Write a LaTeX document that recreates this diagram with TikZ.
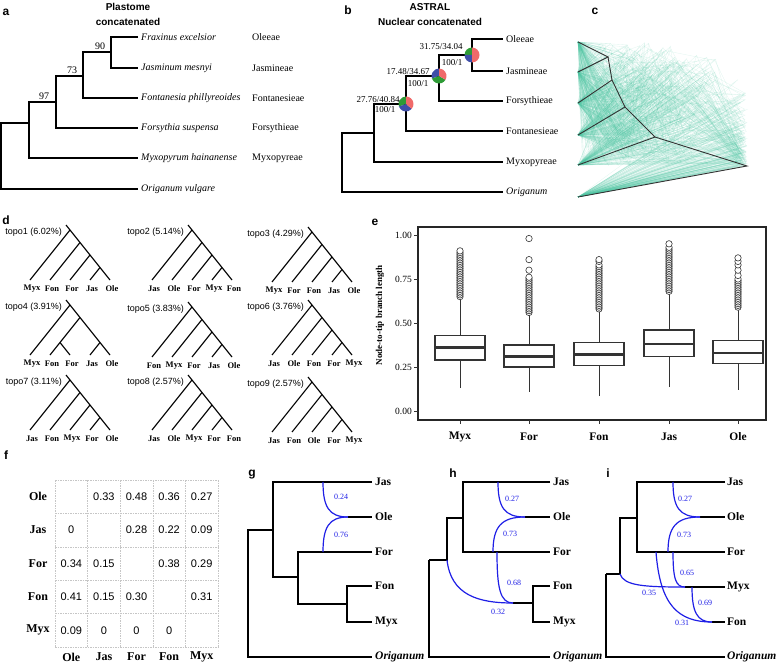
\documentclass[tikz,border=0pt]{standalone}
\usepackage{fontspec}
\setmainfont{Liberation Serif}
\setsansfont{Liberation Sans}
\usepackage{tikz}
\usetikzlibrary{calc}
\definecolor{pier}{HTML}{F06A6A}
\definecolor{pieg}{HTML}{2E9B36}
\definecolor{pieb}{HTML}{3F4FA8}
\definecolor{nuage}{HTML}{4CC3A0}
\definecolor{reseau}{HTML}{1F1FE6}
\definecolor{sombre}{HTML}{333333}

\begin{document}
\begin{tikzpicture}[x=1pt, y=-1pt,
    br/.style={line width=1.1pt},
    net/.style={reseau, line width=1.2pt},
    netlab/.style={reseau, font=\fontsize{8}{9}\selectfont, inner sep=0pt},
    panel/.style={font=\sffamily\bfseries\fontsize{12}{14}\selectfont, inner sep=0pt},
    titre/.style={font=\sffamily\bfseries\fontsize{10}{12}\selectfont, inner sep=0pt},
    taxon/.style={font=\fontsize{10}{12}\selectfont\itshape, anchor=west, inner sep=1pt},
    tribu/.style={font=\fontsize{10}{12}\selectfont, anchor=west, inner sep=1pt},
    supp/.style={font=\fontsize{9}{10}\selectfont, inner sep=0pt},
    topolab/.style={font=\sffamily\fontsize{9}{10}\selectfont, anchor=east, inner sep=1pt},
    tiplab/.style={font=\bfseries\fontsize{8.5}{10}\selectfont, inner sep=0pt},
    glab/.style={font=\bfseries\fontsize{11.5}{13}\selectfont, anchor=west, inner sep=1pt},
    cloudline/.style={nuage, line width=0.35pt, opacity=0.16},
    grille/.style={gray!45, line width=0.5pt, dash pattern=on 1.5pt off 1pt}]
  \useasboundingbox (0,0) rectangle (779,663);

  % a
  \node[panel] (la) at (6,12) {a};
  \node[titre] (ta1) at (128,7) {Plastome};
  \node[titre] (ta2) at (128,22) {concatenated};
  \draw[br] (138,37) -| (111,68) -- (138,68);
  \draw[br] (111,52) -| (83,98) -- (138,98);
  \draw[br] (83,76) -| (56,128) -- (138,128);
  \draw[br] (56,102) -| (29,158) -- (138,158);
  \draw[br] (29,123) -| (1,189) -- (138,189);
  \node[supp, font=\fontsize{10}{12}\selectfont] (bs90) at (100,46) {90};
  \node[supp, font=\fontsize{10}{12}\selectfont] (bs73) at (72,70) {73};
  \node[supp, font=\fontsize{10}{12}\selectfont] (bs97) at (44,96) {97};
  \foreach \y/\sp/\tr [count=\i] in {37/Fraxinus excelsior/Oleeae, 68/Jasminum mesnyi/Jasmineae,
      98/Fontanesia phillyreoides/Fontanesieae, 128/Forsythia suspensa/Forsythieae,
      158/Myxopyrum hainanense/Myxopyreae} {
    \node[taxon] (sp\i) at (140,\y) {\sp};
    \node[tribu] (tr\i) at (251,\y) {\tr};
  }
  \node[taxon] (sp6) at (140,189) {Origanum vulgare};

  % b
  \node[panel] (lb) at (348,10) {b};
  \node[titre] (tb1) at (430,7) {ASTRAL};
  \node[titre] (tb2) at (430,22) {Nuclear concatenated};
  \draw[br] (503,39) -| (472,71) -- (503,71);
  \draw[br] (472,55) -| (439,101) -- (503,101);
  \draw[br] (439,76) -| (406,131) -- (503,131);
  \draw[br] (406,104) -| (374,162) -- (503,162);
  \draw[br] (374,133) -| (342,192) -- (503,192);
  \foreach \px/\py/\ca/\a/\cb/\b in {472/55/pieg/180/pieb/270, 439/76/pieb/200/pieg/330, 406/104/pieg/200/pieb/320} {
    \begin{scope}[shift={(\px,\py)}, yscale=-1]
      \fill[\ca] (0,0) -- (90:7.5) arc[start angle=90, end angle=\a, radius=7.5] -- cycle;
      \fill[\cb] (0,0) -- (\a:7.5) arc[start angle=\a, end angle=\b, radius=7.5] -- cycle;
      \fill[pier] (0,0) -- (\b:7.5) arc[start angle=\b, end angle=450, radius=7.5] -- cycle;
    \end{scope}
  }
  \node[supp] (q1) at (441,47) {31.75/34.04};
  \node[supp] (p1) at (452,63) {100/1};
  \node[supp] (q2) at (408,72) {17.48/34.67};
  \node[supp] (p2) at (418,84) {100/1};
  \node[supp] (q3) at (378,100) {27.76/40.84};
  \node[supp] (p3) at (385,110) {100/1};
  \foreach \y/\tr [count=\i] in {39/Oleeae, 71/Jasmineae, 101/Forsythieae, 131/Fontanesieae, 162/Myxopyreae} {
    \node[tribu] (nb\i) at (505,\y) {\tr};
  }
  \node[taxon] (nb6) at (505,192) {Origanum};

  % c
  \node[panel] (lc) at (595,11) {c};
  \pgfmathsetseed{2718}
  \foreach \k in {1,...,170} {
    \pgfmathsetmacro{\cax}{581+rnd*55}
    \pgfmathsetmacro{\cay}{42+rnd*124}
    \pgfmathsetmacro{\cbx}{\cax+rnd*(700-\cax)*0.5}
    \pgfmathsetmacro{\cby}{42+rnd*124}
    \pgfmathsetmacro{\ccx}{\cbx+rnd*(725-\cbx)*0.5}
    \pgfmathsetmacro{\ccy}{45+rnd*121}
    \pgfmathsetmacro{\cdx}{\ccx+rnd*(742-\ccx)*0.7}
    \pgfmathsetmacro{\cdy}{55+rnd*111}
    \pgfmathsetmacro{\crx}{737+rnd*10}
    \pgfmathsetmacro{\cry}{166-rnd*rnd*100}
    \draw[cloudline] (578,42) -- (\cax,\cay) -- (578,72);
    \draw[cloudline] (\cax,\cay) -- (\cbx,\cby) -- (578,103);
    \draw[cloudline] (\cbx,\cby) -- (\ccx,\ccy) -- (578,135);
    \draw[cloudline] (\ccx,\ccy) -- (\cdx,\cdy) -- (578,165);
    \draw[cloudline] (\cdx,\cdy) -- (\crx,\cry) -- (578,197);
  }
  \draw[sombre, line width=0.9pt] (578,42) -- (608,57) -- (578,72);
  \draw[sombre, line width=0.9pt] (608,57) -- (612,80) -- (578,103);
  \draw[sombre, line width=0.9pt] (612,80) -- (625,107) -- (578,135);
  \draw[sombre, line width=0.9pt] (625,107) -- (655,137) -- (578,165);
  \draw[sombre, line width=0.9pt] (655,137) -- (747,166) -- (578,197);

  % d
  \node[panel] (ld) at (6,220) {d};
  \foreach \n/\x/\y/\pc/\ta/\tb/\tc/\td/\te in {
      1/30/280/6.02/Myx/Fon/For/Jas/Ole, 2/152/280/5.14/Jas/Ole/For/Myx/Fon,
      3/272/282/4.29/Myx/For/Fon/Jas/Ole, 4/30/355/3.91/Myx/Fon/For/Jas/Ole,
      5/152/357/3.83/Fon/Myx/For/Jas/Ole, 6/272/355/3.76/Jas/Ole/Fon/For/Myx,
      7/30/430/3.11/Jas/Fon/Myx/For/Ole, 8/152/430/2.57/Jas/Ole/Myx/For/Fon,
      9/272/432/2.57/Jas/Fon/Ole/For/Myx} {
    \draw[br] (\x+80,\y) -- (\x+36,\y-55);
    \draw[br] (\x+40,\y-50) -- (\x,\y);
    \ifnum\n=4
      \draw[br] (\x+50,\y-37.5) -- (\x+20,\y);
      \draw[br] (\x+30,\y-12.5) -- (\x+40,\y);
      \draw[br] (\x+60,\y) -- (\x+70,\y-12.5);
    \else
      \foreach \i in {1,2,3}
        \draw[br] (\x+20*\i,\y) -- (\x+40+10*\i,\y-50+12.5*\i);
    \fi
    \node[topolab] (topo\n) at (\x+33,\y-48) {topo\n\ (\pc\%)};
    \foreach \t [count=\i from 0] in {\ta,\tb,\tc,\td,\te}
      \node[tiplab] (tip\n-\i) at (\x+20*\i+2,\y+9) {\t};
  }

  % e
  \node[panel] (le) at (375,222) {e};
  \draw[black!85, line width=1.3pt] (418,227) rectangle (766,420);
  \foreach \v/\t in {0/0.00, 0.25/0.25, 0.5/0.50, 0.75/0.75, 1/1.00} {
    \draw[sombre, line width=0.8pt] (414,{411-176*\v}) -- (418,{411-176*\v});
    \node[supp, anchor=east, font=\fontsize{9.5}{11}\selectfont] (yt\t) at (412,{411-176*\v}) {\t};
  }
  \node[rotate=90, font=\bfseries\fontsize{9}{10}\selectfont, inner sep=0pt] (ytitle) at (380,315) {Node-to-tip branch length};
  \foreach \x/\lo/\qa/\md/\qc/\hi/\nm in {460/0.13/0.29/0.36/0.43/0.65/Myx, 529/0.11/0.25/0.31/0.375/0.56/For,
      599/0.085/0.26/0.32/0.39/0.575/Fon, 669/0.135/0.31/0.38/0.46/0.68/Jas, 738/0.12/0.27/0.33/0.40/0.585/Ole} {
    \draw[sombre, line width=1pt] (\x,{411-176*\lo}) -- (\x,{411-176*\qa});
    \draw[sombre, line width=1pt] (\x,{411-176*\qc}) -- (\x,{411-176*\hi});
    \draw[sombre, line width=1.2pt, fill=white] ({\x-25},{411-176*\qa}) rectangle ({\x+25},{411-176*\qc});
    \draw[sombre, line width=2.6pt] ({\x-25},{411-176*\md}) -- ({\x+25},{411-176*\md});
    \draw[sombre, line width=1pt] (\x,420) -- (\x,424);
    \node[font=\bfseries\fontsize{11.5}{13}\selectfont, inner sep=0pt] (xe\nm) at (\x,437) {\nm};
  }
  \foreach \x/\vals in {460/{65,66,...,89,90,91}, 529/{56,57,...,76,80,86,98}, 599/{58,59,...,83,85,86},
      669/{68,69,...,93,95}, 738/{59,60,...,75,77,80,83,85,87}} {
    \foreach \v in \vals
      \draw[sombre, line width=0.6pt, fill=white] (\x,{411-1.76*\v}) circle (3.2);
  }

  % f
  \node[panel] (lf) at (6,455) {f};
  \foreach \i in {0,...,5} {
    \draw[grille] ({55+32.6*\i},480) -- ({55+32.6*\i},647);
    \draw[grille] (55,{480+33.4*\i}) -- (218,{480+33.4*\i});
  }
  \foreach \nm [count=\i from 0] in {Ole,Jas,For,Fon,Myx} {
    \node[font=\bfseries\fontsize{12}{14}\selectfont, inner sep=0pt] (rf\nm) at (38,{480+33.4*(\i+0.5)}) {\nm};
    \node[font=\bfseries\fontsize{12}{14}\selectfont, inner sep=0pt] (cf\nm) at ({55+32.6*(\i+0.5)},657) {\nm};
  }
  \foreach \r/\c/\v [count=\k] in {0/1/0.33, 0/2/0.48, 0/3/0.36, 0/4/0.27,
      1/0/0, 1/2/0.28, 1/3/0.22, 1/4/0.09,
      2/0/0.34, 2/1/0.15, 2/3/0.38, 2/4/0.29,
      3/0/0.41, 3/1/0.15, 3/2/0.30, 3/4/0.31,
      4/0/0.09, 4/1/0, 4/2/0, 4/3/0} {
    \node[font=\sffamily\fontsize{11}{13}\selectfont, inner sep=0pt] (cell\k) at ({55+32.6*(\c+0.5)},{480+33.4*(\r+0.5)}) {\v};
  }

  % g
  \node[panel] (lg) at (252,475) {g};
  \draw[br] (372,482) -| (273,577) -- (298,577);
  \draw[br] (372,552) -| (298,604) -- (347,604);
  \draw[br] (372,586) -| (347,622) -- (372,622);
  \draw[br] (348,517) -- (372,517);
  \draw[br] (273,530) -| (248,657) -- (372,657);
  \draw[net] (323,482) .. controls (323,507) and (329,517) .. (348,517);
  \draw[net] (323,552) .. controls (323,527) and (329,517) .. (348,517);
  \node[netlab] (g24) at (341,497) {0.24};
  \node[netlab] (g76) at (341,535) {0.76};
  \foreach \y/\nm in {482/Jas, 517/Ole, 552/For, 586/Fon, 622/Myx}
    \node[glab] (g\nm) at (374,\y) {\nm};
  \node[glab, font=\bfseries\itshape\fontsize{11.5}{13}\selectfont] (gOri) at (374,657) {Origanum};

  % h
  \node[panel] (lh) at (453,473) {h};
  \draw[br] (550,482) -| (463,552) -- (550,552);
  \draw[br] (463,518) -| (447,560) -- (429,560);
  \draw[br] (429,560) |- (550,657);
  \draw[br] (525,517) -- (550,517);
  \draw[br] (513,603) -- (533,603);
  \draw[br] (550,586) -| (533,622) -- (550,622);
  \draw[net] (498,482) .. controls (498,507) and (504,517) .. (525,517);
  \draw[net] (493,552) .. controls (493,527) and (501,517) .. (525,517);
  \draw[net] (497,552) .. controls (497,588) and (500,603) .. (513,603);
  \draw[net] (447,560) .. controls (451,595) and (478,603) .. (513,603);
  \node[netlab] (h27) at (512,499) {0.27};
  \node[netlab] (h73) at (510,534) {0.73};
  \node[netlab] (h68) at (514,583) {0.68};
  \node[netlab] (h32) at (498,612) {0.32};
  \foreach \y/\nm in {482/Jas, 517/Ole, 552/For, 586/Fon, 622/Myx}
    \node[glab] (h\nm) at (552,\y) {\nm};
  \node[glab, font=\bfseries\itshape\fontsize{11.5}{13}\selectfont] (hOri) at (552,657) {Origanum};

  % i
  \node[panel] (li) at (608,473) {i};
  \draw[br] (725,482) -| (637,552) -- (725,552);
  \draw[br] (637,518) -| (620,574) -- (606,574);
  \draw[br] (606,574) |- (725,657);
  \draw[br] (700,517) -- (725,517);
  \draw[br] (685,587) -- (725,587);
  \draw[br] (712,622) -- (725,622);
  \draw[net] (673,482) .. controls (673,507) and (679,517) .. (700,517);
  \draw[net] (668,552) .. controls (668,527) and (676,517) .. (700,517);
  \draw[net] (673,552) .. controls (673,580) and (676,587) .. (685,587);
  \draw[net] (620,574) .. controls (624,586) and (645,587) .. (685,587);
  \draw[net] (692,587) .. controls (692,612) and (697,622) .. (712,622);
  \draw[net] (656,552) .. controls (660,605) and (678,622) .. (712,622);
  \node[netlab] (i27) at (685,499) {0.27};
  \node[netlab] (i73) at (684,535) {0.73};
  \node[netlab] (i65) at (687,573) {0.65};
  \node[netlab] (i35) at (649,593) {0.35};
  \node[netlab] (i69) at (705,603) {0.69};
  \node[netlab] (i31) at (682,623) {0.31};
  \foreach \y/\nm in {482/Jas, 517/Ole, 552/For, 587/Myx, 622/Fon}
    \node[glab] (i\nm) at (726,\y) {\nm};
  \node[glab, font=\bfseries\itshape\fontsize{11.5}{13}\selectfont] (iOri) at (726,657) {Origanum};
\end{tikzpicture}
\end{document}
